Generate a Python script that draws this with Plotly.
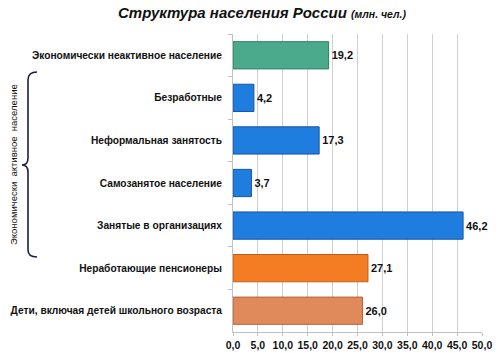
import plotly.graph_objects as go

categories = [
    "Экономически неактивное население",
    "Безработные",
    "Неформальная занятость",
    "Самозанятое население",
    "Занятые в организациях",
    "Неработающие пенсионеры",
    "Дети, включая детей школьного возраста",
]
values = [19.2, 4.2, 17.3, 3.7, 46.2, 27.1, 26.0]
colors = ["#4caa8c", "#1e7ddf", "#1e7ddf", "#1e7ddf", "#1e7ddf", "#f47d24", "#e08a5c"]
line_colors = ["#2f7f62", "#1456a8", "#1456a8", "#1456a8", "#1456a8", "#c85a10", "#b86238"]
tick_vals = [0, 5, 10, 15, 20, 25, 30, 35, 40, 45, 50]

# plot area in pixels
L, R, T, B = 233, 482, 34, 332
W, H = R - L, B - T


def px(x):
    return (x - L) / W


def py(y):
    return (B - y) / H


fig = go.Figure(
    go.Bar(
        y=categories,
        x=values,
        orientation="h",
        marker=dict(color=colors, line=dict(color=line_colors, width=1)),
        text=[f"{v:.1f}".replace(".", ",") for v in values],
        textposition="outside",
        textfont=dict(family="Liberation Sans, Arial", size=11, color="#111111", weight="bold"),
        cliponaxis=False,
    )
)

brace = (
    f"M {px(37)} {py(72)} Q {px(28)} {py(72)} {px(28)} {py(80)} "
    f"L {px(28)} {py(158)} Q {px(28)} {py(165)} {px(22)} {py(165)} "
    f"Q {px(28)} {py(165)} {px(28)} {py(172)} "
    f"L {px(28)} {py(250)} Q {px(28)} {py(257)} {px(37)} {py(257)}"
)

fig.update_layout(
    width=500,
    height=353,
    margin=dict(l=L, r=500 - R, t=T, b=353 - B, autoexpand=False),
    paper_bgcolor="white",
    plot_bgcolor="white",
    separators=", ",
    showlegend=False,
    bargap=0.36,
    font=dict(family="Liberation Sans, Arial", color="#111111"),
    xaxis=dict(
        range=[0, 50],
        tickvals=tick_vals,
        tickformat=".1f",
        showgrid=True,
        gridcolor="#d0d0d0",
        gridwidth=1,
        showline=True,
        linecolor="#c0c0c0",
        ticks="outside",
        ticklen=3,
        tickcolor="#c0c0c0",
        tickfont=dict(size=10.5, weight="bold", color="#111111"),
        ticklabelstandoff=0,
        zeroline=False,
        fixedrange=True,
        automargin=False,
    ),
    yaxis=dict(
        autorange="reversed",
        showline=True,
        linecolor="#c0c0c0",
        ticks="outside",
        tickson="boundaries",
        ticklen=4,
        tickcolor="#c0c0c0",
        tickfont=dict(size=10.2, weight="bold", color="#111111"),
        ticklabelstandoff=8,
        automargin=False,
    ),
    shapes=[
        dict(type="path", xref="paper", yref="paper", path=brace,
             line=dict(color="#1a2040", width=1.6))
    ],
    annotations=[
        dict(
            text="<b><i>Структура населения России</i></b> <b><i><span style='font-size:10.5px'>(млн. чел.)</span></i></b>",
            xref="paper", yref="paper", x=px(262), y=py(12),
            showarrow=False, font=dict(size=15, color="#111111"),
            xanchor="center", yanchor="middle",
        ),
        dict(
            text="Экономически  активное  население",
            xref="paper", yref="paper", x=px(13), y=py(165),
            textangle=-90, showarrow=False,
            font=dict(size=9.5, color="#111111"),
            xanchor="center", yanchor="middle",
        ),
    ],
)

fig.write_html("out.html")
